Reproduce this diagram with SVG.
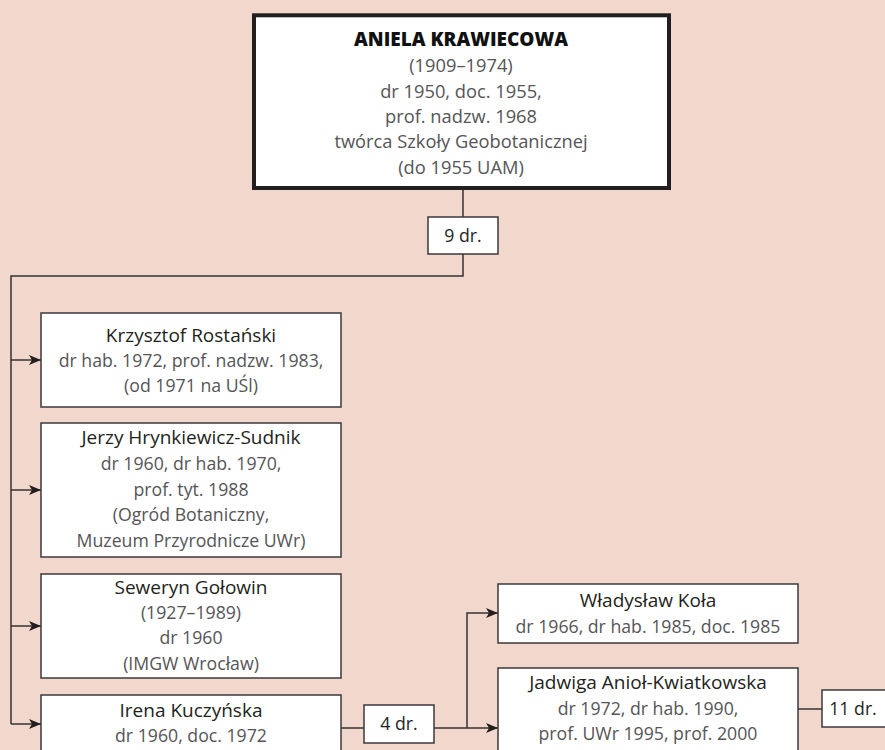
<svg xmlns="http://www.w3.org/2000/svg" width="885" height="750" viewBox="0 0 885 750">
<style>
.bg{fill:#f2d7cc}
.box{fill:#fff;stroke:#3a3a3a;stroke-width:1.5}
.main{fill:#fff;stroke:#231f20;stroke-width:4}
text{font-family:"Open Sans","Noto Sans",sans-serif;font-size:17.7px;text-anchor:middle}
.n{fill:#231f20;font-size:19px}
.k{fill:#231f20}
.d{fill:#555557}
.dt{fill:#555557;font-size:18.3px}
.t{fill:#111;font-weight:800;font-size:19px}
.c{fill:none;stroke:#333;stroke-width:1.5}
</style>
<defs>
<marker id="ah" markerUnits="userSpaceOnUse" markerWidth="14" markerHeight="12" refX="12" refY="5" orient="auto">
<path d="M0,0 L12,5 L0,10 L3,5 z" fill="#231f20"/>
</marker>
</defs>
<rect class="bg" x="0" y="0" width="885" height="750"/>
<g id="connectors">
<path class="c" d="M463,190 V217"/>
<path class="c" d="M463,254 V276 H11 V724"/>
<path class="c" d="M11,360 H41" marker-end="url(#ah)"/>
<path class="c" d="M11,490 H41" marker-end="url(#ah)"/>
<path class="c" d="M11,626 H41" marker-end="url(#ah)"/>
<path class="c" d="M11,724 H41" marker-end="url(#ah)"/>
<path class="c" d="M341,728 H364"/>
<path class="c" d="M434,728 H498" marker-end="url(#ah)"/>
<path class="c" d="M467,728 V613 H498" marker-end="url(#ah)"/>
<path class="c" d="M798,709 H822"/>
</g>
<g id="krawiecowa">
<rect class="main" x="254" y="15.3" width="415" height="172.7"/>
<text class="t" x="461" y="46">ANIELA KRAWIECOWA</text>
<text class="dt" x="461" y="72">(1909–1974)</text>
<text class="dt" x="461" y="98">dr 1950, doc. 1955,</text>
<text class="dt" x="461" y="123">prof. nadzw. 1968</text>
<text class="dt" x="461" y="148">twórca Szkoły Geobotanicznej</text>
<text class="dt" x="461" y="174">(do 1955 UAM)</text>
</g>
<g id="dr9">
<rect class="box" x="428" y="217" width="70" height="37"/>
<text class="k" x="463" y="242">9 dr.</text>
</g>
<g id="rostanski">
<rect class="box" x="41" y="313" width="300" height="94"/>
<text class="n" x="191" y="342">Krzysztof Rostański</text>
<text class="d" x="191" y="367">dr hab. 1972, prof. nadzw. 1983,</text>
<text class="d" x="191" y="392">(od 1971 na UŚl)</text>
</g>
<g id="hrynkiewicz">
<rect class="box" x="41" y="423" width="300" height="134"/>
<text class="n" x="191" y="444">Jerzy Hrynkiewicz-Sudnik</text>
<text class="d" x="191" y="470">dr 1960, dr hab. 1970,</text>
<text class="d" x="191" y="496">prof. tyt. 1988</text>
<text class="d" x="191" y="521">(Ogród Botaniczny,</text>
<text class="d" x="191" y="547">Muzeum Przyrodnicze UWr)</text>
</g>
<g id="golowin">
<rect class="box" x="41" y="574" width="300" height="104"/>
<text class="n" x="191" y="594">Seweryn Gołowin</text>
<text class="d" x="191" y="619">(1927–1989)</text>
<text class="d" x="191" y="644">dr 1960</text>
<text class="d" x="191" y="670">(IMGW Wrocław)</text>
</g>
<g id="kuczynska">
<rect class="box" x="41" y="695" width="300" height="70"/>
<text class="n" x="191" y="717">Irena Kuczyńska</text>
<text class="d" x="191" y="742">dr 1960, doc. 1972</text>
</g>
<g id="dr4">
<rect class="box" x="364" y="705" width="70" height="38"/>
<text class="k" x="399" y="730">4 dr.</text>
</g>
<g id="kola">
<rect class="box" x="498" y="584" width="300" height="59"/>
<text class="n" x="648" y="607">Władysław Koła</text>
<text class="d" x="648" y="633">dr 1966, dr hab. 1985, doc. 1985</text>
</g>
<g id="aniol">
<rect class="box" x="498" y="668" width="300" height="95"/>
<text class="n" x="648" y="689">Jadwiga Anioł-Kwiatkowska</text>
<text class="d" x="648" y="715">dr 1972, dr hab. 1990,</text>
<text class="d" x="648" y="740">prof. UWr 1995, prof. 2000</text>
</g>
<g id="dr11">
<rect class="box" x="822" y="690" width="72" height="37"/>
<text class="k" x="853" y="715">11 dr.</text>
</g>
</svg>
